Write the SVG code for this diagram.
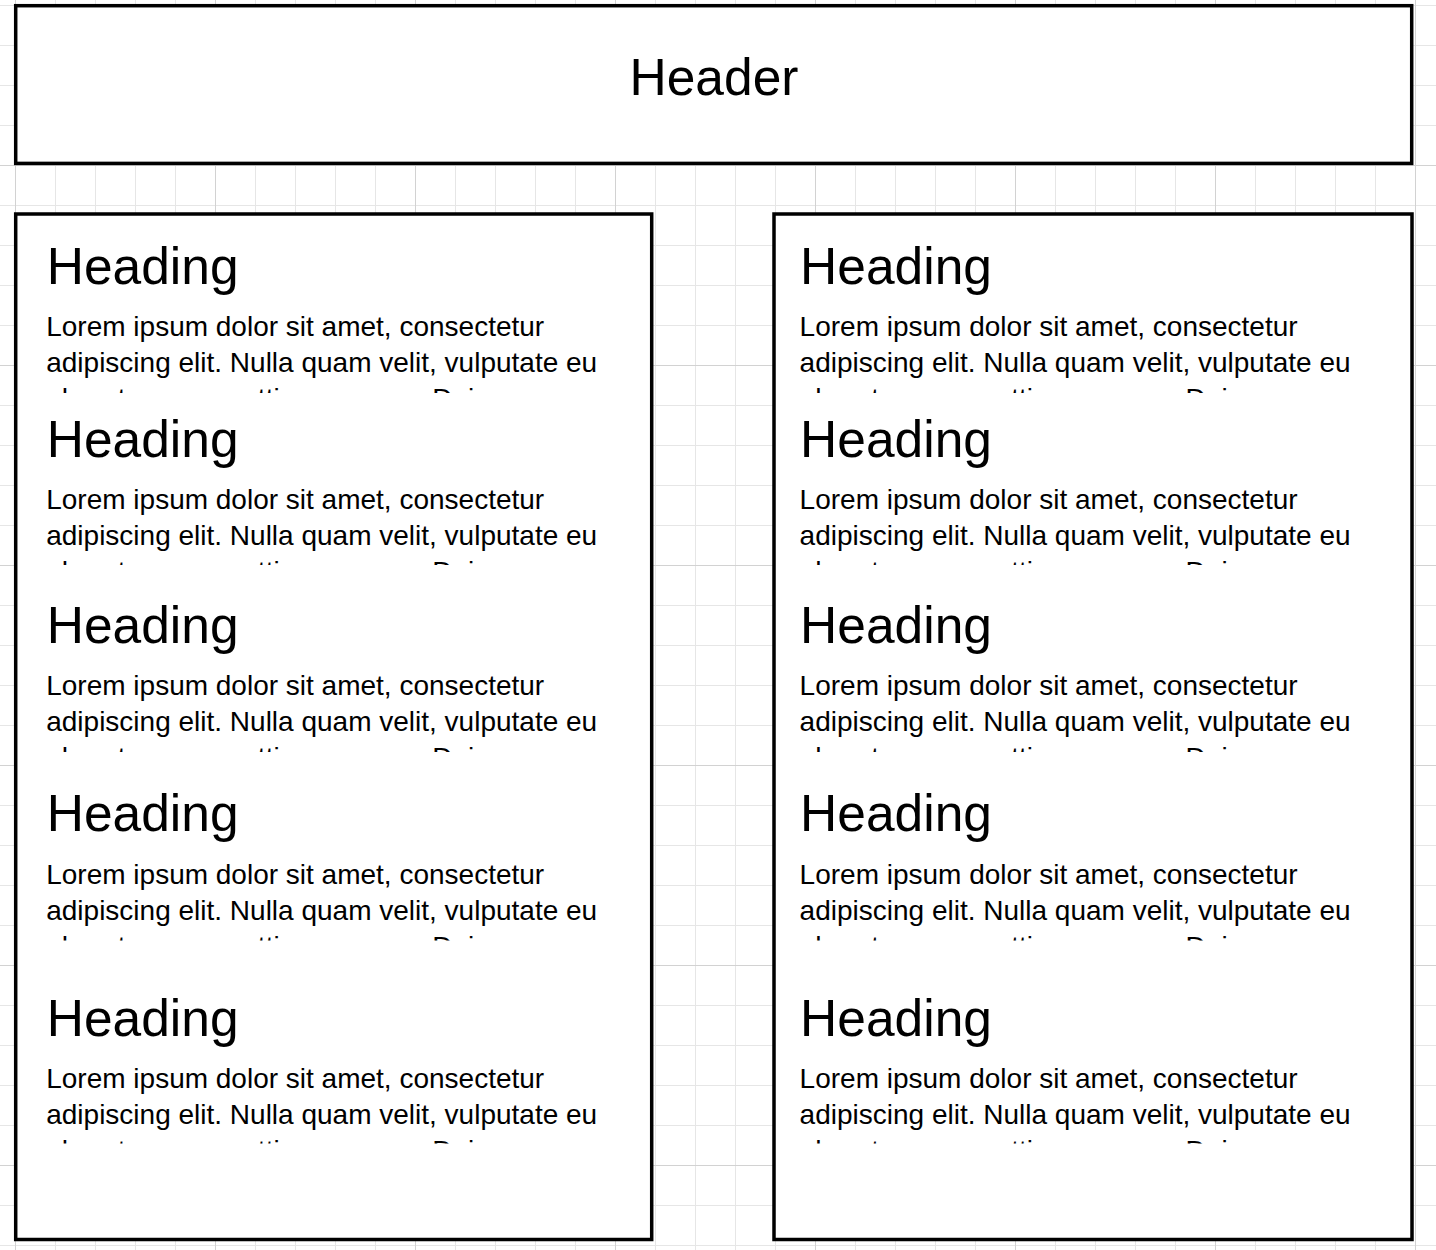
<svg xmlns="http://www.w3.org/2000/svg" width="1436" height="1250" viewBox="0 0 1436 1250">
<defs>
<style>
.box{fill:#ffffff;stroke:#000000;stroke-width:3.5}
.hdr{font-family:"Liberation Sans",Arial,Helvetica,sans-serif;font-size:51.5px;fill:#000000;text-anchor:middle}
.h{font-family:"Liberation Sans",Arial,Helvetica,sans-serif;font-size:51.5px;fill:#000000}
.p{font-family:"Liberation Sans",Arial,Helvetica,sans-serif;font-size:28px;fill:#000000}
</style>
<pattern id="minor" x="15" y="5" width="40" height="40" patternUnits="userSpaceOnUse"><path d="M0.5 0V40M0 0.5H40" stroke="#e6e6e6" stroke-width="1" fill="none"/></pattern>
<pattern id="major" x="15" y="165" width="200" height="200" patternUnits="userSpaceOnUse"><path d="M0.5 0V200M0 0.5H200" stroke="#d2d2d2" stroke-width="1" fill="none"/></pattern>
<clipPath id="c1" clipPathUnits="userSpaceOnUse"><rect x="0" y="220" width="1436" height="173"/></clipPath>
<clipPath id="c2" clipPathUnits="userSpaceOnUse"><rect x="0" y="396" width="1436" height="169"/></clipPath>
<clipPath id="c3" clipPathUnits="userSpaceOnUse"><rect x="0" y="570" width="1436" height="182"/></clipPath>
<clipPath id="c4" clipPathUnits="userSpaceOnUse"><rect x="0" y="757" width="1436" height="183.5"/></clipPath>
<clipPath id="c5" clipPathUnits="userSpaceOnUse"><rect x="0" y="960" width="1436" height="183.5"/></clipPath>
</defs>
<rect width="1436" height="1250" fill="#ffffff"/>
<rect width="1436" height="1250" fill="url(#minor)"/>
<rect width="1436" height="1250" fill="url(#major)"/>

<g id="header">
<rect class="box" x="15.7" y="5.7" width="1396" height="157.7"/>
<text class="hdr" x="714" y="95">Header</text>
</g>

<g id="left-column">
<rect class="box" x="15.7" y="214" width="636" height="1025.5"/>
<g id="left-block-1" clip-path="url(#c1)">
<text class="h" x="46.7" y="283.5">Heading</text>
<text class="p" x="46.2" y="336">Lorem ipsum dolor sit amet, consectetur</text>
<text class="p" x="46.2" y="372">adipiscing elit. Nulla quam velit, vulputate eu</text>
<text class="p" x="46.2" y="408">pharetra nec, mattis ac neque. Duis</text>
</g>
<g id="left-block-2" clip-path="url(#c2)">
<text class="h" x="46.7" y="456.5">Heading</text>
<text class="p" x="46.2" y="509">Lorem ipsum dolor sit amet, consectetur</text>
<text class="p" x="46.2" y="545">adipiscing elit. Nulla quam velit, vulputate eu</text>
<text class="p" x="46.2" y="581">pharetra nec, mattis ac neque. Duis</text>
</g>
<g id="left-block-3" clip-path="url(#c3)">
<text class="h" x="46.7" y="642.5">Heading</text>
<text class="p" x="46.2" y="695">Lorem ipsum dolor sit amet, consectetur</text>
<text class="p" x="46.2" y="731">adipiscing elit. Nulla quam velit, vulputate eu</text>
<text class="p" x="46.2" y="767">pharetra nec, mattis ac neque. Duis</text>
</g>
<g id="left-block-4" clip-path="url(#c4)">
<text class="h" x="46.7" y="831">Heading</text>
<text class="p" x="46.2" y="883.5">Lorem ipsum dolor sit amet, consectetur</text>
<text class="p" x="46.2" y="919.5">adipiscing elit. Nulla quam velit, vulputate eu</text>
<text class="p" x="46.2" y="955.5">pharetra nec, mattis ac neque. Duis</text>
</g>
<g id="left-block-5" clip-path="url(#c5)">
<text class="h" x="46.7" y="1035.5">Heading</text>
<text class="p" x="46.2" y="1088">Lorem ipsum dolor sit amet, consectetur</text>
<text class="p" x="46.2" y="1124">adipiscing elit. Nulla quam velit, vulputate eu</text>
<text class="p" x="46.2" y="1160">pharetra nec, mattis ac neque. Duis</text>
</g>
</g>

<g id="right-column">
<rect class="box" x="774" y="214" width="638" height="1025.5"/>
<g id="right-block-1" clip-path="url(#c1)">
<text class="h" x="800.1" y="283.5">Heading</text>
<text class="p" x="799.6" y="336">Lorem ipsum dolor sit amet, consectetur</text>
<text class="p" x="799.6" y="372">adipiscing elit. Nulla quam velit, vulputate eu</text>
<text class="p" x="799.6" y="408">pharetra nec, mattis ac neque. Duis</text>
</g>
<g id="right-block-2" clip-path="url(#c2)">
<text class="h" x="800.1" y="456.5">Heading</text>
<text class="p" x="799.6" y="509">Lorem ipsum dolor sit amet, consectetur</text>
<text class="p" x="799.6" y="545">adipiscing elit. Nulla quam velit, vulputate eu</text>
<text class="p" x="799.6" y="581">pharetra nec, mattis ac neque. Duis</text>
</g>
<g id="right-block-3" clip-path="url(#c3)">
<text class="h" x="800.1" y="642.5">Heading</text>
<text class="p" x="799.6" y="695">Lorem ipsum dolor sit amet, consectetur</text>
<text class="p" x="799.6" y="731">adipiscing elit. Nulla quam velit, vulputate eu</text>
<text class="p" x="799.6" y="767">pharetra nec, mattis ac neque. Duis</text>
</g>
<g id="right-block-4" clip-path="url(#c4)">
<text class="h" x="800.1" y="831">Heading</text>
<text class="p" x="799.6" y="883.5">Lorem ipsum dolor sit amet, consectetur</text>
<text class="p" x="799.6" y="919.5">adipiscing elit. Nulla quam velit, vulputate eu</text>
<text class="p" x="799.6" y="955.5">pharetra nec, mattis ac neque. Duis</text>
</g>
<g id="right-block-5" clip-path="url(#c5)">
<text class="h" x="800.1" y="1035.5">Heading</text>
<text class="p" x="799.6" y="1088">Lorem ipsum dolor sit amet, consectetur</text>
<text class="p" x="799.6" y="1124">adipiscing elit. Nulla quam velit, vulputate eu</text>
<text class="p" x="799.6" y="1160">pharetra nec, mattis ac neque. Duis</text>
</g>
</g>

<g id="connectors"/>
</svg>
